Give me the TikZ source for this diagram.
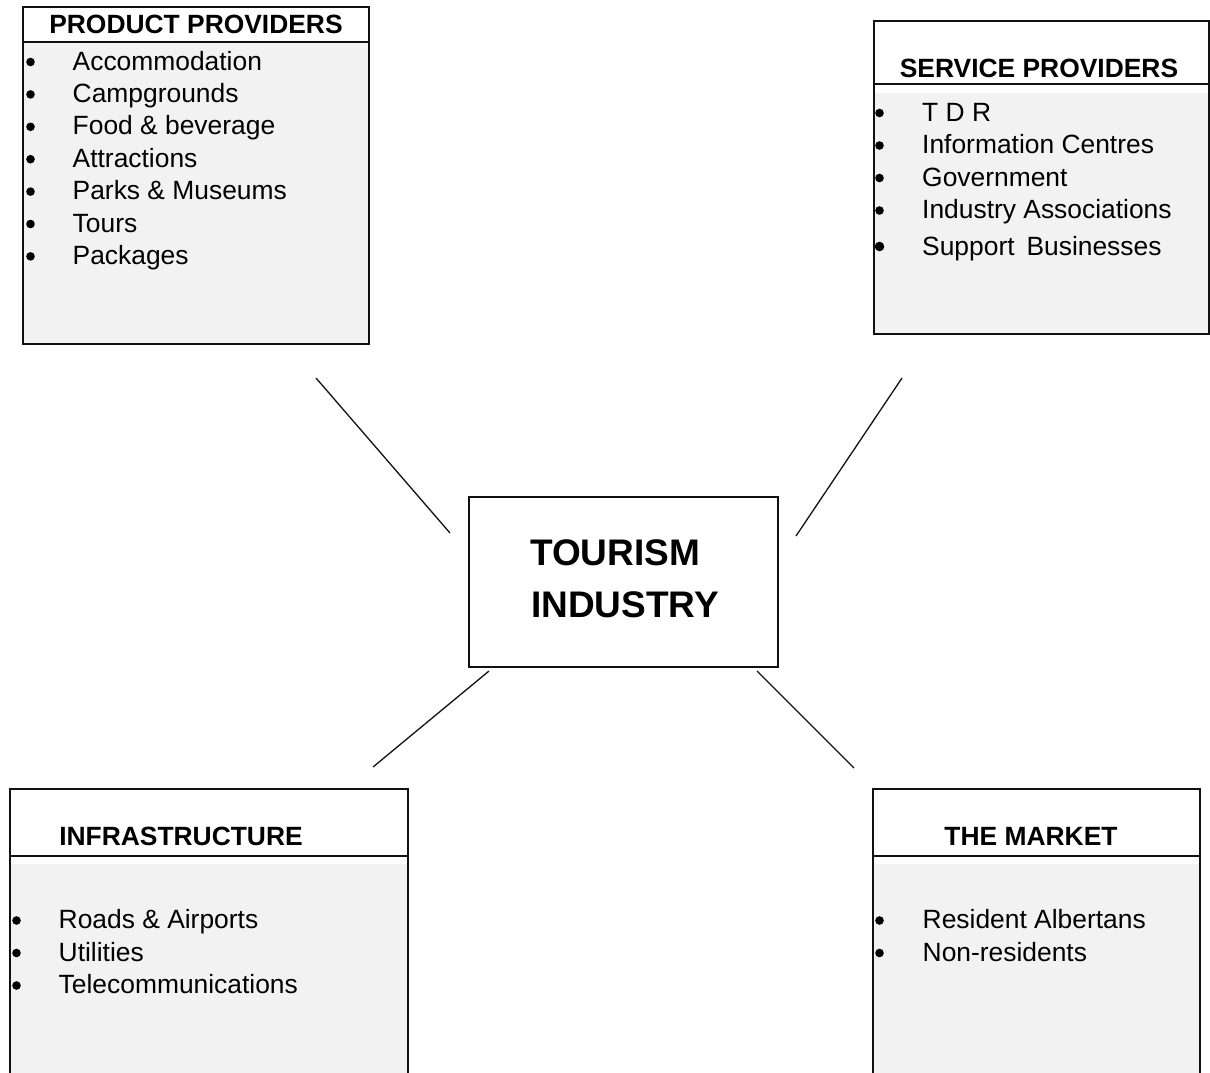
\documentclass[tikz,border=0pt]{standalone}
\usepackage{fontspec}
\setmainfont{Liberation Sans}
\definecolor{panelgrey}{HTML}{F2F2F2}
\definecolor{ink}{HTML}{111111}
\begin{document}
\begin{tikzpicture}[x=1pt,y=-1pt,
  frame/.style={draw=ink,line width=1.5pt,rectangle,inner sep=0pt,anchor=north west},
  greyarea/.style={fill=panelgrey,draw=none,rectangle,inner sep=0pt,anchor=north west},
  headtext/.style={anchor=base,inner sep=0pt,font=\fontsize{26.4}{30}\selectfont\bfseries},
  itemtext/.style={anchor=base west,inner sep=0pt,font=\fontsize{26.4}{32}\selectfont},
  hubtext/.style={anchor=base west,inner sep=0pt,font=\fontsize{37}{44}\selectfont\bfseries},
  dot/.style={circle,fill=black,inner sep=0pt,minimum size=8.6pt},
  link/.style={draw=ink,line width=1.3pt}]
\useasboundingbox (0,0) rectangle (1210,1072);
\clip (0,0) rectangle (1210,1072);

% ---------- product providers ----------
\node[greyarea,minimum width=346pt,minimum height=300pt] (prodfill) at (22,43) {};
\node[frame,minimum width=346pt,minimum height=337pt] (prod) at (22,6) {};
\draw[ink,line width=1.3pt] (prod.west |- 0,42) -- (prod.east |- 0,42);
\node[headtext] (prodhead) at (196,33) {PRODUCT PROVIDERS};
\foreach \t [count=\i] in {Accommodation,Campgrounds,Food \& beverage,Attractions,Parks \& Museums,Tours,Packages}{
  \node[itemtext] (prod\i) at (72.5,{70+32.4*(\i-1)}) {\t};
  \node[dot] (prodb\i) at (30.5,{62+32.4*(\i-1)}) {};
}

% ---------- service providers ----------
\node[greyarea,minimum width=335pt,minimum height=240pt] (servfill) at (873,93) {};
\node[frame,minimum width=335pt,minimum height=313pt] (serv) at (873,20) {};
\draw[ink,line width=1.3pt] (serv.west |- 0,84) -- (serv.east |- 0,84);
\node[headtext] (servhead) at (1039,77) {SERVICE PROVIDERS};
\foreach \t/\y [count=\i] in {T D R/121,Information Centres/153.5,Government/186,Industry Associations/218.5}{
  \node[itemtext] (serv\i) at (922,\y) {\t};
  \node[dot] (servb\i) at (879.5,\y-8) {};
}
\node[itemtext] (serv5) at (922,255) {Support\hspace{0.45em}Businesses};
\node[dot,minimum size=9.6pt] (servb5) at (879.5,246.5) {};

% ---------- infrastructure ----------
\node[greyarea,minimum width=398pt,minimum height=220pt] (infrafill) at (9,864) {};
\node[frame,minimum width=398pt,minimum height=300pt] (infra) at (9,788) {};
\draw[ink,line width=1.3pt] (infra.west |- 0,856) -- (infra.east |- 0,856);
\node[headtext] (infrahead) at (181,845) {INFRASTRUCTURE};
\foreach \t [count=\i] in {Roads \& Airports,Utilities,Telecommunications}{
  \node[itemtext] (infra\i) at (58.5,{928.5+32.5*(\i-1)}) {\t};
  \node[dot] (infrab\i) at (16.5,{920.5+32.5*(\i-1)}) {};
}

% ---------- the market ----------
\node[greyarea,minimum width=327pt,minimum height=220pt] (mktfill) at (872,864) {};
\node[frame,minimum width=327pt,minimum height=300pt] (mkt) at (872,788) {};
\draw[ink,line width=1.3pt] (mkt.west |- 0,856) -- (mkt.east |- 0,856);
\node[headtext] (mkthead) at (1031,845) {THE MARKET};
\foreach \t [count=\i] in {Resident Albertans,Non-residents}{
  \node[itemtext] (mkt\i) at (922.5,{928.5+32.5*(\i-1)}) {\t};
  \node[dot] (mktb\i) at (879.5,{920.5+32.5*(\i-1)}) {};
}

% ---------- hub ----------
\node[frame,minimum width=309pt,minimum height=170pt] (hub) at (468,496) {};
\node[hubtext] (hub1) at (530,565) {TOURISM};
\node[hubtext] (hub2) at (531,617) {INDUSTRY};

% ---------- free-standing spokes ----------
\coordinate (pa) at (316,378); \coordinate (pb) at (450,533);
\coordinate (sa) at (902,378); \coordinate (sb) at (796,536);
\coordinate (ia) at (489,671); \coordinate (ib) at (373,767);
\coordinate (ma) at (757,671); \coordinate (mb) at (854,768);
\draw[link] (pa) -- (pb);
\draw[link] (sa) -- (sb);
\draw[link] (ia) -- (ib);
\draw[link] (ma) -- (mb);
\end{tikzpicture}
\end{document}
